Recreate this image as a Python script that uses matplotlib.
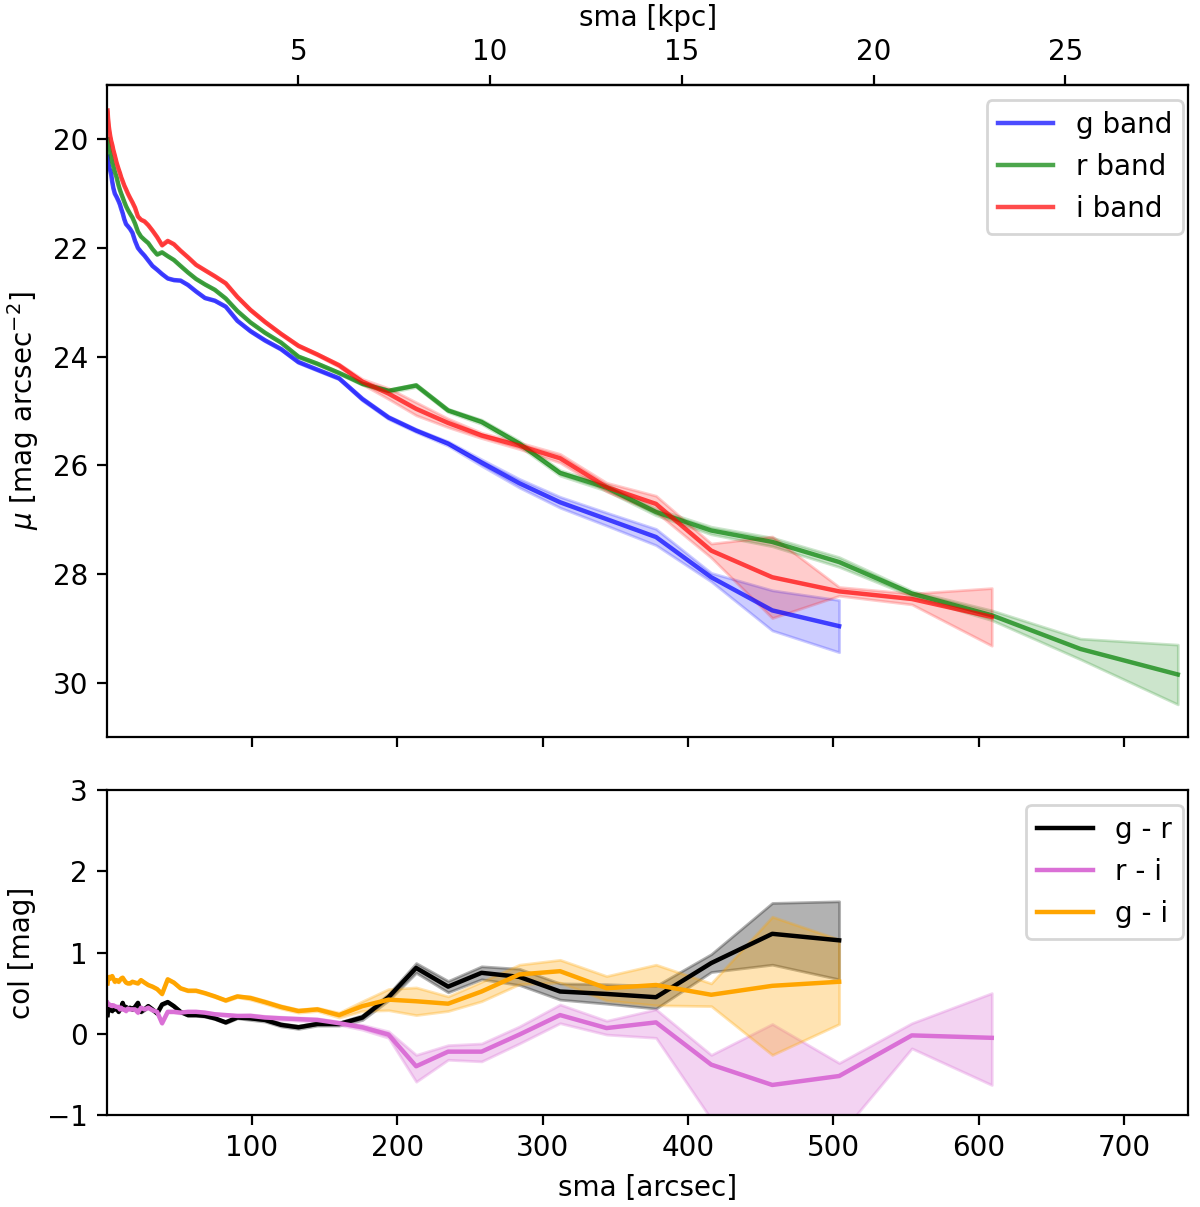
import matplotlib
matplotlib.use("Agg")
import matplotlib.pyplot as plt
import numpy as np

# ---------------- data ----------------
sma = [0.7, 1.0, 1.5, 2.0, 2.6, 3.2, 3.9, 4.7, 5.7, 6.9,
       8.3, 9.2, 10.1, 11.1, 12.2, 13.4, 14.7, 16.2, 17.8, 19.6,
       21.6, 23.7, 26.1, 28.7, 31.6, 34.8, 38.2, 42.1, 46.3, 50.9,
       56.0, 61.6, 67.7, 74.5, 82.0, 90.0, 99.0, 109, 120, 132,
       145, 160, 176, 194, 213, 235, 258, 284, 312, 344,
       378, 416, 458, 504, 554, 609, 670, 737]

mu_g = [20.32, 20.40, 20.48, 20.54, 20.58, 20.65, 20.78, 20.90, 21.00, 21.06,
        21.14, 21.20, 21.28, 21.36, 21.47, 21.56, 21.60, 21.65, 21.72, 21.87,
        22.00, 22.07, 22.14, 22.23, 22.33, 22.40, 22.48, 22.56, 22.59, 22.60,
        22.68, 22.80, 22.92, 22.97, 23.08, 23.34, 23.53, 23.70, 23.86, 24.10,
        24.24, 24.40, 24.78, 25.12, 25.36, 25.60, 25.95, 26.33, 26.68, 26.99,
        27.32, 28.06, 28.67, 28.96]
mu_r = [20.00, 20.06, 20.13, 20.20, 20.27, 20.33, 20.42, 20.50, 20.60, 20.70,
        20.85, 20.93, 21.00, 21.07, 21.15, 21.23, 21.30, 21.37, 21.44, 21.55,
        21.70, 21.79, 21.85, 21.91, 22.02, 22.12, 22.08, 22.15, 22.22, 22.33,
        22.45, 22.57, 22.67, 22.77, 22.93, 23.16, 23.37, 23.56, 23.74, 24.00,
        24.13, 24.30, 24.50, 24.63, 24.53, 24.99, 25.20, 25.60, 26.14, 26.41,
        26.86, 27.20, 27.41, 27.78, 28.36, 28.76, 29.38, 29.85]
mu_i = [19.47, 19.60, 19.75, 19.85, 19.95, 20.03, 20.10, 20.20, 20.30, 20.43,
        20.55, 20.62, 20.70, 20.77, 20.85, 20.92, 21.00, 21.08, 21.16, 21.26,
        21.42, 21.48, 21.51, 21.58, 21.68, 21.80, 21.95, 21.87, 21.93, 22.05,
        22.17, 22.31, 22.41, 22.52, 22.65, 22.90, 23.14, 23.36, 23.58, 23.80,
        23.96, 24.16, 24.46, 24.68, 24.96, 25.22, 25.45, 25.64, 25.87, 26.40,
        26.71, 27.57, 28.06, 28.32, 28.46, 28.79]

err_g = [0.01, 0.01, 0.01, 0.01, 0.01, 0.01, 0.01, 0.01, 0.01, 0.01,
         0.01, 0.01, 0.01, 0.01, 0.01, 0.01, 0.01, 0.01, 0.01, 0.01,
         0.01, 0.01, 0.01, 0.01, 0.01, 0.01, 0.01, 0.01, 0.01, 0.01,
         0.01, 0.01, 0.01, 0.01, 0.01, 0.01, 0.02, 0.02, 0.02, 0.02,
         0.02, 0.02, 0.03, 0.03, 0.03, 0.04, 0.06, 0.08, 0.10, 0.12,
         0.15, 0.08, 0.37, 0.48]
err_r = [0.01, 0.01, 0.01, 0.01, 0.01, 0.01, 0.01, 0.01, 0.01, 0.01,
         0.01, 0.01, 0.01, 0.01, 0.01, 0.01, 0.01, 0.01, 0.01, 0.01,
         0.01, 0.01, 0.01, 0.01, 0.01, 0.01, 0.01, 0.01, 0.01, 0.01,
         0.01, 0.01, 0.01, 0.01, 0.01, 0.01, 0.01, 0.01, 0.01, 0.02,
         0.02, 0.02, 0.02, 0.03, 0.03, 0.03, 0.04, 0.05, 0.05, 0.06,
         0.06, 0.07, 0.08, 0.09, 0.05, 0.09, 0.19, 0.55]
err_i = [0.01, 0.01, 0.01, 0.01, 0.01, 0.01, 0.01, 0.01, 0.01, 0.01,
         0.01, 0.01, 0.01, 0.01, 0.01, 0.01, 0.01, 0.01, 0.01, 0.01,
         0.01, 0.01, 0.01, 0.01, 0.01, 0.01, 0.01, 0.01, 0.01, 0.01,
         0.01, 0.01, 0.01, 0.01, 0.01, 0.01, 0.02, 0.02, 0.02, 0.02,
         0.02, 0.03, 0.05, 0.10, 0.12, 0.08, 0.05, 0.06, 0.08, 0.08,
         0.15, 0.13, 0.75, 0.08, 0.10, 0.53]

col_gr = [0.23, 0.30, 0.28, 0.32, 0.30, 0.32, 0.28, 0.32, 0.30, 0.32,
          0.27, 0.30, 0.32, 0.38, 0.32, 0.33, 0.31, 0.32, 0.30, 0.33,
          0.38, 0.27, 0.30, 0.34, 0.30, 0.25, 0.36, 0.39, 0.34, 0.27,
          0.23, 0.23, 0.22, 0.19, 0.14, 0.20, 0.19, 0.17, 0.11, 0.08,
          0.12, 0.12, 0.20, 0.45, 0.81, 0.58, 0.75, 0.70, 0.52, 0.49,
          0.45, 0.87, 1.23, 1.15]
col_ri = [0.38, 0.37, 0.36, 0.36, 0.35, 0.35, 0.34, 0.35, 0.34, 0.33,
          0.33, 0.30, 0.32, 0.30, 0.30, 0.28, 0.31, 0.30, 0.30, 0.30,
          0.26, 0.32, 0.30, 0.32, 0.29, 0.27, 0.13, 0.27, 0.27, 0.26,
          0.27, 0.27, 0.26, 0.24, 0.23, 0.22, 0.22, 0.20, 0.19, 0.18,
          0.17, 0.13, 0.08, -0.01, -0.40, -0.22, -0.22, -0.01, 0.23, 0.07,
          0.14, -0.38, -0.63, -0.52, -0.02, -0.05]
col_gi = [0.62, 0.66, 0.68, 0.70, 0.68, 0.70, 0.71, 0.68, 0.64, 0.66,
          0.64, 0.66, 0.68, 0.69, 0.66, 0.63, 0.62, 0.62, 0.64, 0.63,
          0.62, 0.66, 0.63, 0.60, 0.58, 0.55, 0.49, 0.67, 0.63, 0.56,
          0.53, 0.53, 0.50, 0.46, 0.41, 0.46, 0.44, 0.39, 0.33, 0.28,
          0.30, 0.23, 0.34, 0.42, 0.40, 0.37, 0.52, 0.73, 0.77, 0.56,
          0.60, 0.48, 0.59, 0.64]

err_gr = [0.01, 0.01, 0.01, 0.01, 0.01, 0.01, 0.01, 0.01, 0.01, 0.01,
          0.01, 0.01, 0.01, 0.01, 0.01, 0.01, 0.01, 0.01, 0.01, 0.01,
          0.01, 0.01, 0.01, 0.01, 0.01, 0.01, 0.01, 0.01, 0.01, 0.01,
          0.01, 0.01, 0.01, 0.01, 0.01, 0.01, 0.02, 0.02, 0.02, 0.02,
          0.02, 0.02, 0.03, 0.04, 0.06, 0.07, 0.08, 0.10, 0.10, 0.12,
          0.14, 0.11, 0.38, 0.48]
err_gi = [0.01, 0.01, 0.01, 0.01, 0.01, 0.01, 0.01, 0.01, 0.01, 0.01,
          0.01, 0.01, 0.01, 0.01, 0.01, 0.01, 0.01, 0.01, 0.01, 0.01,
          0.01, 0.01, 0.01, 0.01, 0.01, 0.01, 0.01, 0.01, 0.01, 0.01,
          0.01, 0.01, 0.01, 0.01, 0.01, 0.01, 0.02, 0.02, 0.02, 0.02,
          0.02, 0.03, 0.06, 0.13, 0.17, 0.09, 0.12, 0.12, 0.14, 0.15,
          0.25, 0.14, 0.85, 0.52]
err_ri_lo = [0.01, 0.01, 0.01, 0.01, 0.01, 0.01, 0.01, 0.01, 0.01, 0.01,
             0.01, 0.01, 0.01, 0.01, 0.01, 0.01, 0.01, 0.01, 0.01, 0.01,
             0.01, 0.01, 0.01, 0.01, 0.01, 0.01, 0.01, 0.01, 0.01, 0.01,
             0.01, 0.01, 0.01, 0.01, 0.01, 0.01, 0.02, 0.02, 0.02, 0.02,
             0.02, 0.02, 0.03, 0.04, 0.19, 0.10, 0.12, 0.11, 0.10, 0.08,
             0.19, 0.67, 1.07, 0.73, 0.16, 0.58]
err_ri_hi = [0.01, 0.01, 0.01, 0.01, 0.01, 0.01, 0.01, 0.01, 0.01, 0.01,
             0.01, 0.01, 0.01, 0.01, 0.01, 0.01, 0.01, 0.01, 0.01, 0.01,
             0.01, 0.01, 0.01, 0.01, 0.01, 0.01, 0.01, 0.01, 0.01, 0.01,
             0.01, 0.01, 0.01, 0.01, 0.01, 0.01, 0.02, 0.02, 0.02, 0.02,
             0.02, 0.02, 0.03, 0.04, 0.14, 0.08, 0.10, 0.10, 0.13, 0.09,
             0.16, 0.12, 0.75, 0.16, 0.15, 0.55]

KPC_PER_ARCSEC = 0.0379

# ---------------- figure ----------------
fig = plt.figure(figsize=(6, 6.035), dpi=200)
ax1 = fig.add_axes([0.0895, 0.3894, 0.9005, 0.5402])
ax2 = fig.add_axes([0.0895, 0.0762, 0.9005, 0.2693], sharex=ax1)

x = np.array(sma)


def band(ax, y, e, color, label, a_line, a_fill):
    n = len(y)
    y = np.array(y)
    e = np.array(e)
    ax.fill_between(x[:n], y - e, y + e, color=color, alpha=a_fill)
    ax.plot(x[:n], y, color=color, alpha=a_line, lw=1.6, label=label)


band(ax1, mu_g, err_g, 'blue', 'g band', 0.7, 0.2)
band(ax1, mu_r, err_r, 'green', 'r band', 0.7, 0.2)
band(ax1, mu_i, err_i, 'red', 'i band', 0.7, 0.2)

ax1.set_xlim(0.6, 744)
ax1.set_ylim(31, 19)
ax1.set_yticks([20, 22, 24, 26, 28, 30])
ax1.set_ylabel(r'$\mu$ [mag arcsec$^{-2}$]')
ax1.tick_params(axis='x', labelbottom=False)
ax1.legend(loc='upper right', bbox_to_anchor=(0.9954, 0.977), borderaxespad=0)

sec = ax1.secondary_xaxis('top', functions=(lambda v: v * KPC_PER_ARCSEC,
                                            lambda v: v / KPC_PER_ARCSEC))
sec.set_xticks([5, 10, 15, 20, 25])
sec.set_xlabel('sma [kpc]')

# colours
n = len(col_gr)
gr = np.array(col_gr); egr = np.array(err_gr)
ax2.fill_between(x[:n], gr - egr, gr + egr, color='black', alpha=0.3)
ax2.plot(x[:n], gr, color='black', lw=1.6, label='g - r')

n = len(col_ri)
ri = np.array(col_ri)
ax2.fill_between(x[:n], ri - np.array(err_ri_lo), ri + np.array(err_ri_hi),
                 color='orchid', alpha=0.3)
ax2.plot(x[:n], ri, color='orchid', lw=1.6, label='r - i')

n = len(col_gi)
gi = np.array(col_gi); egi = np.array(err_gi)
ax2.fill_between(x[:n], gi - egi, gi + egi, color='orange', alpha=0.3)
ax2.plot(x[:n], gi, color='orange', lw=1.6, label='g - i')

ax2.set_ylim(-1, 3)
ax2.set_yticks([-1, 0, 1, 2, 3])
ax2.set_xticks([100, 200, 300, 400, 500, 600, 700])
ax2.set_xlim(0.6, 744)
ax2.set_xlabel('sma [arcsec]')
ax2.set_ylabel('col [mag]')
ax2.legend(loc='upper right', bbox_to_anchor=(0.9954, 0.954), borderaxespad=0)

fig.savefig('out.png', dpi=200)
